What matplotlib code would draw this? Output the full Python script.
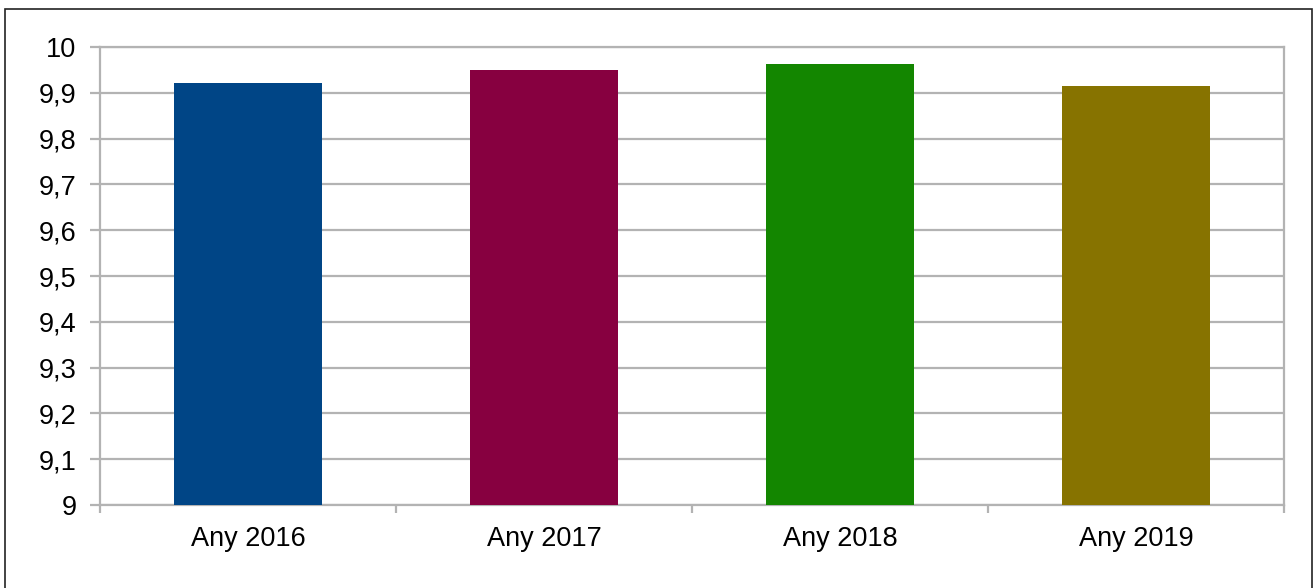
import matplotlib.pyplot as plt
from matplotlib.patches import Rectangle
from matplotlib.ticker import FuncFormatter

# data
categories = ["Any 2016", "Any 2017", "Any 2018", "Any 2019"]
values = [9.922, 9.950, 9.963, 9.915]
colors = ["#004586", "#870040", "#138600", "#877300"]
y_ticks = [9.0, 9.1, 9.2, 9.3, 9.4, 9.5, 9.6, 9.7, 9.8, 9.9, 10.0]

plt.rcParams["font.family"] = ["Liberation Sans", "DejaVu Sans"]

fig = plt.figure(figsize=(13.14, 5.88), dpi=100)
ax = fig.add_axes([100 / 1314, 1 - 505 / 588, 1184 / 1314, 458 / 588])

# outer frame round the chart
fig.patches.append(Rectangle((5 / 1314, -0.05), 1307 / 1314, 1.05 - 9 / 588,
                             transform=fig.transFigure, fill=False,
                             edgecolor="#222222", linewidth=1.2))

x = list(range(len(categories)))
ax.bar(x, [v - 9 for v in values], bottom=9, width=0.5, color=colors, zorder=3)

ax.set_xlim(-0.5, len(categories) - 0.5)
ax.set_ylim(9, 10)
ax.set_yticks(y_ticks)
ax.yaxis.set_major_formatter(FuncFormatter(
    lambda v, p: ("%g" % round(v, 1)).replace(".", ",")))
ax.grid(axis="y", color="#b3b3b3", linewidth=1.6, zorder=0)

ax.set_xticks(x)
ax.set_xticklabels(categories)
ax.set_xticks([i - 0.5 for i in range(len(categories) + 1)], minor=True)

for s in ax.spines.values():
    s.set_color("#b3b3b3")
    s.set_linewidth(1.6)

ax.tick_params(axis="y", length=7, width=1.6, color="#b3b3b3", pad=10,
               labelsize=19.5, labelcolor="black")
ax.tick_params(axis="x", which="major", length=0, pad=15,
               labelsize=19.5, labelcolor="black")
ax.tick_params(axis="x", which="minor", length=6, width=1.6, color="#b3b3b3")

fig.savefig("out.png", dpi=100)
